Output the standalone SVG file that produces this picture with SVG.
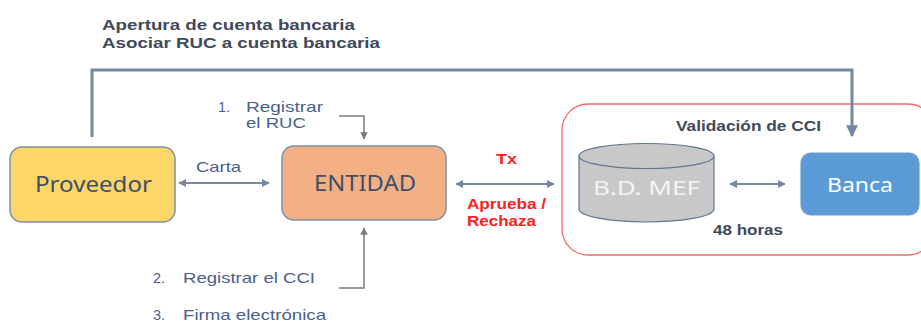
<svg xmlns="http://www.w3.org/2000/svg" width="921" height="322" viewBox="0 0 921 322">
  <style>
    .box { stroke: #7d8fa6; stroke-width: 1.5; }
    .lbl { font-family: "Noto Sans", "Open Sans", sans-serif; }
    .dark { font-family: "Liberation Sans", Arial, sans-serif; font-size: 15.5px; font-weight: bold; fill: #3e4a5c; }
    .blue { font-family: "Liberation Sans", Arial, sans-serif; font-size: 14.5px; fill: #4a5f8c; }
    .red { font-family: "Liberation Sans", Arial, sans-serif; font-size: 15px; font-weight: bold; fill: #ff2020; }
    .conn { fill: none; stroke: #7388a2; stroke-width: 2; }
    .thin { fill: none; stroke: #7c7c7c; stroke-width: 1.5; }
  </style>
  <defs>
    <marker id="ah" viewBox="0 0 10 10" refX="9" refY="5" markerWidth="4" markerHeight="4" orient="auto-start-reverse">
      <path d="M0,0 L10,5 L0,10 z" fill="#7388a2"/>
    </marker>
    <marker id="ahg" viewBox="0 0 10 10" refX="9" refY="5" markerWidth="5" markerHeight="5" orient="auto">
      <path d="M0,0 L10,5 L0,10 z" fill="#7c7c7c"/>
    </marker>
  </defs>
  <rect width="921" height="322" fill="#ffffff"/>

  <!-- header text -->
  <text class="dark" x="102" y="30" textLength="253" lengthAdjust="spacingAndGlyphs">Apertura de cuenta bancaria</text>
  <text class="dark" x="102" y="48" textLength="278" lengthAdjust="spacingAndGlyphs">Asociar RUC a cuenta bancaria</text>

  <!-- validation zone -->
  <g id="validacion">
    <rect x="562" y="104" width="372" height="151" rx="26" fill="none" stroke="#f26b6b" stroke-width="1.3"/>
    <text class="dark" x="676" y="131" textLength="145" lengthAdjust="spacingAndGlyphs">Validación de CCI</text>
    <text class="dark" x="713" y="235" textLength="70" lengthAdjust="spacingAndGlyphs">48 horas</text>
  </g>

  <g id="proveedor">
    <rect class="box" x="10" y="147" width="165" height="75" rx="12" fill="#fcd667"/>
    <text class="lbl" x="35" y="192" font-size="22" fill="#3f4f6a" textLength="117" lengthAdjust="spacingAndGlyphs">Proveedor</text>
  </g>

  <g id="entidad">
    <rect class="box" x="282" y="146" width="164" height="74" rx="12" fill="#f2b084"/>
    <text class="lbl" x="314" y="191" font-size="21" fill="#3f4f6a" textLength="102" lengthAdjust="spacingAndGlyphs">ENTIDAD</text>
  </g>

  <g id="bdmef">
    <path d="M579,156 L579,209 A67.5,13 0 0 0 714,209 L714,156" fill="#c8c8c8" stroke="#5f7590" stroke-width="1.2"/>
    <ellipse cx="646.5" cy="156" rx="67.5" ry="12.5" fill="#c8c8c8" stroke="#5f7590" stroke-width="1.2"/>
    <text class="lbl" x="593" y="195" font-size="19" fill="#f4f4f4" textLength="107" lengthAdjust="spacingAndGlyphs">B.D.  MEF</text>
  </g>

  <g id="banca">
    <rect x="801" y="153" width="118" height="62" rx="10" fill="#5b9bd5" stroke="#6f9fcc" stroke-width="1.2"/>
    <text class="lbl" x="827" y="192" font-size="20" fill="#ffffff" textLength="66" lengthAdjust="spacingAndGlyphs">Banca</text>
  </g>

  <!-- connectors -->
  <g id="connectors">
    <path d="M92,137 L92,70 L852,70 L852,136" fill="none" stroke="#7388a2" stroke-width="3" marker-end="url(#ah)"/>
    <line class="conn" x1="179" y1="183" x2="269" y2="183" marker-start="url(#ah)" marker-end="url(#ah)"/>
    <line class="conn" x1="456" y1="184" x2="554" y2="184" marker-start="url(#ah)" marker-end="url(#ah)"/>
    <line class="conn" x1="730" y1="184" x2="785" y2="184" marker-start="url(#ah)" marker-end="url(#ah)"/>
    <path class="thin" d="M339,116 L364,116 L364,139" marker-end="url(#ahg)"/>
    <path class="thin" d="M339,288 L364,288 L364,228" marker-end="url(#ahg)"/>
  </g>

  <!-- connector labels -->
  <text class="blue" x="196" y="172" textLength="45" lengthAdjust="spacingAndGlyphs">Carta</text>
  <text class="blue" x="218" y="112">1.</text>
  <text class="blue" x="246" y="112" textLength="77" lengthAdjust="spacingAndGlyphs">Registrar</text>
  <text class="blue" x="246" y="128" textLength="60" lengthAdjust="spacingAndGlyphs">el RUC</text>
  <text class="blue" x="153" y="283">2.</text>
  <text class="blue" x="183" y="283" textLength="132" lengthAdjust="spacingAndGlyphs">Registrar el CCI</text>
  <text class="blue" x="153" y="320">3.</text>
  <text class="blue" x="183" y="320" textLength="143" lengthAdjust="spacingAndGlyphs">Firma electrónica</text>
  <text class="red" x="496" y="164" textLength="21" lengthAdjust="spacingAndGlyphs">Tx</text>
  <text class="red" x="467" y="209" textLength="79" lengthAdjust="spacingAndGlyphs">Aprueba /</text>
  <text class="red" x="467" y="226" textLength="69" lengthAdjust="spacingAndGlyphs">Rechaza</text>
</svg>
